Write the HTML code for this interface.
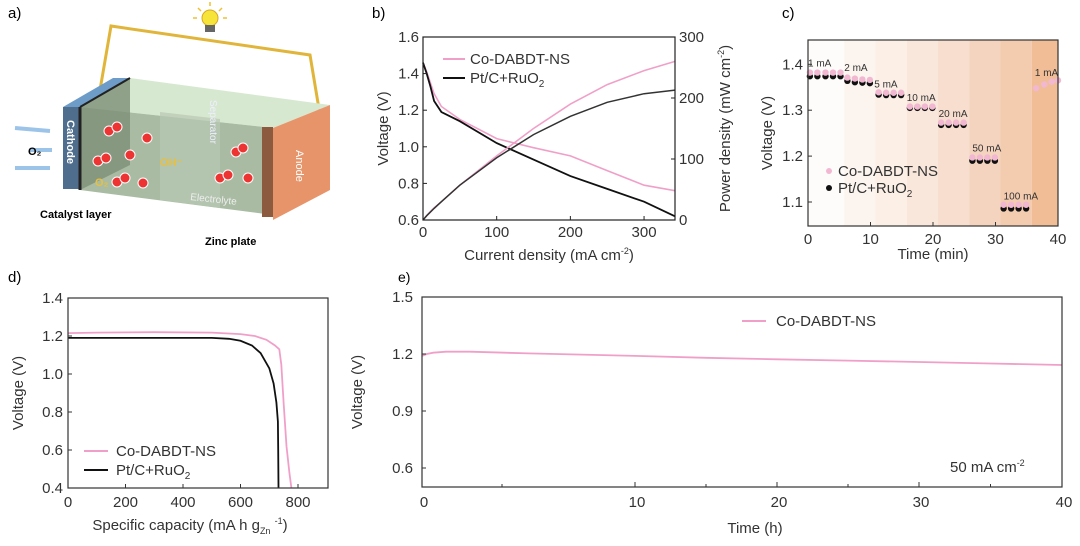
<!DOCTYPE html>
<html><head><meta charset="utf-8"><style>
body{margin:0;background:#fff;}
svg{display:block;font-family:"Liberation Sans",Arial,sans-serif;}
</style></head><body>
<svg id="fig" width="1080" height="546" viewBox="0 0 1080 546" xmlns="http://www.w3.org/2000/svg">
<g>
<text x="8" y="18" font-size="15">a)</text>
<polyline points="100,90 111,26 310,55 320,115" fill="none" stroke="#e0b53a" stroke-width="3"/>
<circle cx="210" cy="18" r="8" fill="#f7e43a" stroke="#d9a820"/>
<rect x="205" y="25" width="10" height="7" fill="#666"/>
<g stroke="#f0c030" stroke-width="1.5"><line x1="210" y1="2" x2="210" y2="6"/><line x1="198" y1="8" x2="201" y2="11"/><line x1="222" y1="8" x2="219" y2="11"/><line x1="193" y1="18" x2="197" y2="18"/><line x1="223" y1="18" x2="227" y2="18"/></g>
<polygon points="80,107 130,78 330,105 273,128" fill="#d7e8d0"/>
<polygon points="80,107 273,128 273,215 80,190" fill="#a9bca3"/>
<polygon points="80,107 130,78 130,165 80,190" fill="#7e8e78" opacity="0.8"/>
<polygon points="160,112 220,119 220,208 160,200" fill="#b8c8b3" opacity="0.7"/>
<polygon points="63,107 80,107 130,78 113,78" fill="#6e9cc8"/>
<rect x="63" y="107" width="17" height="82" fill="#4f6e8e"/>
<line x1="80" y1="107" x2="80" y2="190" stroke="#222" stroke-width="3"/>
<line x1="80" y1="107" x2="130" y2="78" stroke="#222" stroke-width="2"/>
<polygon points="273,128 330,105 330,190 273,220" fill="#e8946a"/>
<rect x="262" y="127" width="11" height="90" fill="#8c5a3e"/>
<text transform="translate(67,120) rotate(90)" font-size="11" fill="#fff" font-weight="bold">Cathode</text>
<text transform="translate(296,150) rotate(90)" font-size="11" fill="#fff">Anode</text>
<text transform="translate(210,100) rotate(90)" font-size="10" fill="#eef">Separator</text>
<text x="190" y="200" font-size="10" fill="#eee" transform="rotate(6 190 200)">Electrolyte</text>
<g fill="#e33" stroke="#fff" stroke-width="1"><circle cx="109" cy="131" r="5"/><circle cx="117" cy="127" r="5"/><circle cx="147" cy="138" r="5"/><circle cx="98" cy="161" r="5"/><circle cx="106" cy="158" r="5"/><circle cx="130" cy="155" r="5"/><circle cx="117" cy="182" r="5"/><circle cx="125" cy="178" r="5"/><circle cx="143" cy="183" r="5"/><circle cx="236" cy="152" r="5"/><circle cx="243" cy="148" r="5"/><circle cx="220" cy="178" r="5"/><circle cx="228" cy="175" r="5"/><circle cx="248" cy="178" r="5"/></g>
<text x="160" y="166" font-size="11" fill="#e8c040" font-weight="bold">OH⁻</text>
<text x="95" y="186" font-size="11" fill="#e8c040" font-weight="bold">O₂</text>
<g stroke="#9cc3e8" stroke-width="4"><line x1="15" y1="128" x2="50" y2="131"/><line x1="30" y1="150" x2="52" y2="150"/><line x1="15" y1="168" x2="50" y2="168"/></g>
<text x="28" y="155" font-size="11" font-weight="bold">O₂</text>
<text x="40" y="218" font-size="11" font-weight="bold">Catalyst layer</text>
<text x="205" y="245" font-size="11" font-weight="bold">Zinc plate</text>
</g>
<g id="pb"></g>
<g id="pc"></g>
<g id="pd"></g>
<g id="pe"></g>
</svg>
<script>
// Panel b data
const bCurrent = [0, 5, 10, 15, 25, 50, 100, 150, 200, 250, 300, 342];
const bCoVoltage = [1.46, 1.41, 1.35, 1.29, 1.22, 1.15, 1.045, 0.995, 0.95, 0.87, 0.79, 0.76];
const bPtVoltage = [1.46, 1.40, 1.33, 1.25, 1.19, 1.14, 1.02, 0.93, 0.84, 0.77, 0.70, 0.62];
const bCoPower = [0, 7, 14, 20, 30, 57, 105, 150, 190, 222, 245, 260];
const bPtPower = [0, 7, 13, 19, 30, 57, 102, 140, 170, 193, 207, 213];
const bXTicks = [0, 100, 200, 300];
const bYTicks = [0.6, 0.8, 1.0, 1.2, 1.4, 1.6];
const bY2Ticks = [0, 100, 200, 300];
// Panel c data
const cCoTime = [0.3,1.5,2.8,4.0,5.2, 6.3,7.5,8.7,9.9, 11.3,12.5,13.7,14.9, 16.3,17.5,18.7,19.9, 21.3,22.5,23.7,24.9, 26.3,27.5,28.7,29.9, 31.3,32.5,33.7,34.9, 36.5,37.8,39.0,40.0];
const cCoVolt = [1.382,1.382,1.382,1.382,1.382, 1.371,1.369,1.367,1.366, 1.339,1.338,1.338,1.338, 1.308,1.308,1.308,1.308, 1.273,1.273,1.273,1.273, 1.197,1.197,1.197,1.197, 1.094,1.094,1.094,1.094, 1.348,1.356,1.362,1.365];
const cPtTime = [0.3,1.5,2.8,4.0,5.2, 6.3,7.5,8.7,9.9, 11.3,12.5,13.7,14.9, 16.3,17.5,18.7,19.9, 21.3,22.5,23.7,24.9, 26.3,27.5,28.7,29.9, 31.3,32.5,33.7,34.9];
const cPtVolt = [1.374,1.374,1.374,1.374,1.374, 1.364,1.361,1.360,1.359, 1.334,1.333,1.333,1.333, 1.305,1.305,1.305,1.305, 1.268,1.268,1.268,1.268, 1.190,1.190,1.190,1.190, 1.086,1.086,1.086,1.086];
const cStepLabels = ["1 mA","2 mA","5 mA","10 mA","20 mA","50 mA","100 mA","1 mA"];
const cStepLabelX = [0, 5.8, 10.6, 15.8, 20.9, 26.3, 31.3, 36.3];
const cStepLabelY = [1.395, 1.385, 1.35, 1.32, 1.285, 1.21, 1.105, 1.375];
const cBandEdges = [0, 5.8, 10.8, 15.8, 20.8, 25.8, 30.8, 35.8, 40];
const cBandColors = ["#fefcfa","#fcf5ef","#fbefe6","#f9e7db","#f7dece","#f5d4bf","#f3cbaf","#f0bd96"];
const cXTicks = [0,10,20,30,40];
const cYTicks = [1.1,1.2,1.3,1.4];
// Panel d data
const dCoCap = [0, 100, 300, 500, 600, 650, 690, 720, 735, 742, 750, 760, 770, 777];
const dCoVolt = [1.215, 1.218, 1.22, 1.218, 1.21, 1.20, 1.18, 1.15, 1.13, 1.05, 0.85, 0.62, 0.48, 0.40];
const dPtCap = [0, 200, 500, 560, 600, 640, 670, 700, 715, 725, 730, 731, 732];
const dPtVolt = [1.19, 1.19, 1.19, 1.185, 1.175, 1.15, 1.11, 1.03, 0.95, 0.85, 0.75, 0.60, 0.40];
const dXTicks = [0,200,400,600,800];
const dYTicks = [0.4,0.6,0.8,1.0,1.2,1.4];
// Panel e data
const eTime = [0, 0.3, 0.7, 1.5, 3, 6, 10, 15, 20, 25, 30, 35, 40];
const eVolt = [1.19, 1.2, 1.207, 1.212, 1.212, 1.203, 1.19, 1.18, 1.172, 1.165, 1.158, 1.15, 1.142];
const eXTicks = [0,10,20,30,40];
const eXMinor = [5,15,25,35];
const eYTicks = [0.6,0.9,1.2,1.5];

const NS="http://www.w3.org/2000/svg";
function mk(parent, tag, attrs, text){
  const e=document.createElementNS(NS,tag);
  for(const k in attrs) e.setAttribute(k,attrs[k]);
  if(text!==undefined) e.textContent=text;
  parent.appendChild(e); return e;
}
function scale(d0,d1,r0,r1){return v=>r0+(v-d0)/(d1-d0)*(r1-r0);}
function piecewise(ds,rs){return v=>{let i=0;while(i<ds.length-2&&v>ds[i+1])i++;return rs[i]+(v-ds[i])/(ds[i+1]-ds[i])*(rs[i+1]-rs[i]);};}
function pathFrom(xs,ys,sx,sy){return xs.map((x,i)=>(i?'L':'M')+sx(x).toFixed(1)+','+sy(ys[i]).toFixed(1)).join(' ');}
function fmt(v,d){return d?v.toFixed(d):String(v);}

// ---------- Panel b ----------
(function(){
const g=document.getElementById('pb');
const L=423,R=675,T=37,B=220;
const sx=scale(0,342,L,R), sy=scale(0.6,1.6,B,T), sy2=scale(0,300,B,T);
let t=mk(g,'text',{x:372,y:18,'font-size':15},'b)');


let p=mk(g,'path',{d:pathFrom(bCurrent,bCoVoltage,sx,sy),fill:'none',stroke:'#f0a0c8','stroke-width':1.6});


p=mk(g,'path',{d:pathFrom(bCurrent,bPtVoltage,sx,sy),fill:'none',stroke:'#111','stroke-width':1.8});


p=mk(g,'path',{d:pathFrom(bCurrent,bCoPower,sx,sy2),fill:'none',stroke:'#f0a0c8','stroke-width':1.6});


p=mk(g,'path',{d:pathFrom(bCurrent,bPtPower,sx,sy2),fill:'none',stroke:'#333','stroke-width':1.5});


const f=mk(g,'rect',{x:L,y:T,width:R-L,height:B-T,fill:'none',stroke:'#222','stroke-width':1.2});


bXTicks.forEach(v=>{mk(g,'line',{x1:sx(v),x2:sx(v),y1:B,y2:B-4,stroke:'#222'});
 const tt=mk(g,'text',{x:sx(v),y:B+17,'font-size':15,'text-anchor':'middle',fill:'#333'},v);
 
 });
bYTicks.forEach(v=>{mk(g,'line',{x1:L,x2:L+4,y1:sy(v),y2:sy(v),stroke:'#222'});
 const tt=mk(g,'text',{x:L-4,y:sy(v)+5,'font-size':15,'text-anchor':'end',fill:'#333'},fmt(v,1));
 
 });
bY2Ticks.forEach(v=>{mk(g,'line',{x1:R,x2:R-4,y1:sy2(v),y2:sy2(v),stroke:'#222'});
 const tt=mk(g,'text',{x:R+4,y:sy2(v)+5,'font-size':15,fill:'#333'},v);
 
 });
t=mk(g,'text',{x:(L+R)/2,y:260,'font-size':15,'text-anchor':'middle',fill:'#333'});
t.innerHTML='Current density (mA cm<tspan dy="-6" font-size="9">-2</tspan><tspan dy="6">)</tspan>';


t=mk(g,'text',{transform:'translate(388,'+((T+B)/2)+') rotate(-90)','font-size':15,'text-anchor':'middle',fill:'#333'},'Voltage (V)');


t=mk(g,'text',{transform:'translate(730,'+((T+B)/2)+') rotate(-90)','font-size':15,'text-anchor':'middle',fill:'#333'});
t.innerHTML='Power density (mW cm<tspan dy="-6" font-size="9">-2</tspan><tspan dy="6">)</tspan>';


const le=mk(g,'g',{});


mk(le,'line',{x1:443,x2:465,y1:59,y2:59,stroke:'#f0a0c8','stroke-width':2});
mk(le,'text',{x:470,y:64,'font-size':15,fill:'#333'},'Co-DABDT-NS');
mk(le,'line',{x1:443,x2:465,y1:78,y2:78,stroke:'#111','stroke-width':2});
const lt=mk(le,'text',{x:470,y:83,'font-size':15,fill:'#333'});
lt.innerHTML='Pt/C+RuO<tspan dy="4" font-size="10">2</tspan>';
})();

// ---------- Panel c ----------
(function(){
const g=document.getElementById('pc');
const L=808,R=1058,T=40,B=226;
const sx=scale(0,40,L,R), sy=scale(1.4,1.1,64.3,202);
let t=mk(g,'text',{x:782,y:18,'font-size':15},'c)');


cBandColors.forEach((c,i)=>{const r=mk(g,'rect',{x:sx(cBandEdges[i]),y:T,width:sx(cBandEdges[i+1])-sx(cBandEdges[i]),height:B-T,fill:c});
 
 });
cPtTime.forEach((x,i)=>{const c=mk(g,'circle',{cx:sx(x),cy:sy(cPtVolt[i]),r:3.2,fill:'#111'});
 
 });
cCoTime.forEach((x,i)=>{const c=mk(g,'circle',{cx:sx(x),cy:sy(cCoVolt[i]),r:3.2,fill:'#f2b8d2'});
 
 });
cStepLabels.forEach((s,i)=>{const tt=mk(g,'text',{x:sx(cStepLabelX[i]),y:sy(cStepLabelY[i]),'font-size':10,fill:'#333'},s);
 
 });
const f=mk(g,'rect',{x:L,y:T,width:R-L,height:B-T,fill:'none',stroke:'#333','stroke-width':1.2});


cXTicks.forEach(v=>{mk(g,'line',{x1:sx(v),x2:sx(v),y1:B,y2:B-4,stroke:'#333'});
 const tt=mk(g,'text',{x:sx(v),y:B+18,'font-size':15,'text-anchor':'middle',fill:'#333'},v);
 
 });
cYTicks.forEach(v=>{mk(g,'line',{x1:L,x2:L+4,y1:sy(v),y2:sy(v),stroke:'#333'});
 const tt=mk(g,'text',{x:L-5,y:sy(v)+5,'font-size':15,'text-anchor':'end',fill:'#333'},fmt(v,1));
 
 });
t=mk(g,'text',{x:(L+R)/2,y:259,'font-size':15,'text-anchor':'middle',fill:'#333'},'Time (min)');


t=mk(g,'text',{transform:'translate(772,'+((T+B)/2)+') rotate(-90)','font-size':15,'text-anchor':'middle',fill:'#333'},'Voltage (V)');


const le=mk(g,'g',{});


mk(le,'circle',{cx:829,cy:171,r:3,fill:'#f2b8d2'});
mk(le,'text',{x:838,y:176,'font-size':15,fill:'#333'},'Co-DABDT-NS');
mk(le,'circle',{cx:829,cy:188,r:3,fill:'#111'});
const lt=mk(le,'text',{x:838,y:193,'font-size':15,fill:'#333'});
lt.innerHTML='Pt/C+RuO<tspan dy="4" font-size="10">2</tspan>';
})();

// ---------- Panel d ----------
(function(){
const g=document.getElementById('pd');
const L=68,R=328,T=298,B=488;
const sx=scale(0,800,L,298), sy=scale(0.4,1.4,B,T);
let t=mk(g,'text',{x:8,y:282,'font-size':15},'d)');


let p=mk(g,'path',{d:pathFrom(dCoCap,dCoVolt,sx,sy),fill:'none',stroke:'#f0a0c8','stroke-width':1.8});


p=mk(g,'path',{d:pathFrom(dPtCap,dPtVolt,sx,sy),fill:'none',stroke:'#111','stroke-width':1.8});


const f=mk(g,'rect',{x:L,y:T,width:R-L,height:B-T,fill:'none',stroke:'#333','stroke-width':1.2});


dXTicks.forEach(v=>{mk(g,'line',{x1:sx(v),x2:sx(v),y1:B,y2:B-4,stroke:'#333'});
 const tt=mk(g,'text',{x:sx(v),y:B+19,'font-size':15,'text-anchor':'middle',fill:'#333'},v);
 
 });
dYTicks.forEach(v=>{mk(g,'line',{x1:L,x2:L+4,y1:sy(v),y2:sy(v),stroke:'#333'});
 const tt=mk(g,'text',{x:L-5,y:sy(v)+5,'font-size':15,'text-anchor':'end',fill:'#333'},fmt(v,1));
 
 });
t=mk(g,'text',{x:190,y:530,'font-size':15,'text-anchor':'middle',fill:'#333'});
t.innerHTML='Specific capacity (mA h g<tspan dy="4" font-size="9">Zn</tspan><tspan dy="-4"> </tspan><tspan dy="-6" font-size="9">-1</tspan><tspan dy="6">)</tspan>';


t=mk(g,'text',{transform:'translate(23,'+((T+B)/2)+') rotate(-90)','font-size':15,'text-anchor':'middle',fill:'#333'},'Voltage (V)');


const le=mk(g,'g',{});


mk(le,'line',{x1:84,x2:108,y1:451,y2:451,stroke:'#f0a0c8','stroke-width':2});
mk(le,'text',{x:116,y:456,'font-size':15,fill:'#333'},'Co-DABDT-NS');
mk(le,'line',{x1:84,x2:108,y1:470,y2:470,stroke:'#111','stroke-width':2});
const lt=mk(le,'text',{x:116,y:475,'font-size':15,fill:'#333'});
lt.innerHTML='Pt/C+RuO<tspan dy="4" font-size="10">2</tspan>';
})();

// ---------- Panel e ----------
(function(){
const g=document.getElementById('pe');
const L=422,R=1062,T=297,B=487;
const sx=piecewise([0,5,10,20,30,40],[422,502,635,777,919,1062]), sy=scale(1.5,0.6,297,468);
let t=mk(g,'text',{x:398,y:282,'font-size':14},'e)');


let p=mk(g,'path',{d:pathFrom(eTime,eVolt,sx,sy),fill:'none',stroke:'#f0a0c8','stroke-width':1.8});


const f=mk(g,'rect',{x:L,y:T,width:R-L,height:B-T,fill:'none',stroke:'#333','stroke-width':1.2});


eXMinor.forEach(v=>{mk(g,'line',{x1:sx(v),x2:sx(v),y1:B,y2:B-3,stroke:'#333'});});
eXTicks.forEach(v=>{mk(g,'line',{x1:sx(v),x2:sx(v),y1:B,y2:B-5,stroke:'#333'});
 const tt=mk(g,'text',{x:sx(v)+2,y:507,'font-size':15,'text-anchor':'middle',fill:'#333'},v);
 
 });
eYTicks.forEach(v=>{mk(g,'line',{x1:L,x2:L+4,y1:sy(v),y2:sy(v),stroke:'#333'});
 const tt=mk(g,'text',{x:L-9,y:sy(v)+5,'font-size':15,'text-anchor':'end',fill:'#333'},fmt(v,1));
 
 });
t=mk(g,'text',{x:755,y:533,'font-size':15,'text-anchor':'middle',fill:'#333'},'Time (h)');


t=mk(g,'text',{transform:'translate(362,'+((T+B)/2)+') rotate(-90)','font-size':15,'text-anchor':'middle',fill:'#333'},'Voltage (V)');


const le=mk(g,'g',{});


mk(le,'line',{x1:742,x2:766,y1:321,y2:321,stroke:'#f0a0c8','stroke-width':2});
mk(le,'text',{x:776,y:326,'font-size':15,fill:'#333'},'Co-DABDT-NS');
t=mk(g,'text',{x:950,y:472,'font-size':15,fill:'#333'});
t.innerHTML='50 mA cm<tspan dy="-6" font-size="9">-2</tspan>';


})();
</script>
</body></html>
